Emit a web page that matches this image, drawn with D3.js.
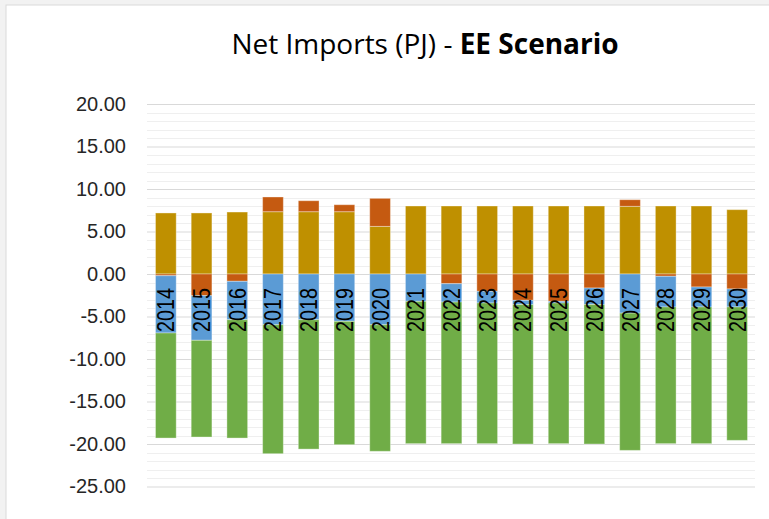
<!DOCTYPE html>
<meta charset="utf-8">
<style>
  body { margin: 0; background: #f2f2f2; }
  text { font-family: "Open Sans", "Liberation Sans", sans-serif; }
</style>
<svg width="769" height="519"></svg>
<script src="https://d3js.org/d3.v7.min.js"></script>
<script>

// data (PJ)
var years = ["2014","2015","2016","2017","2018","2019","2020","2021","2022",
             "2023","2024","2025","2026","2027","2028","2029","2030"];
var gold   = [7.18, 7.18, 7.29, 7.33, 7.33, 7.33, 5.60, 8.00, 8.00, 8.00, 8.00, 8.00, 8.00, 7.96, 8.00, 8.00, 7.57];
var orange = [-0.20, -2.55, -0.86, 1.73, 1.29, 0.82, 3.30, 0.00, -1.14, -2.04, -3.10, -3.22, -1.65, 0.78, -0.27, -1.53, -1.76];
var blue   = [-6.74, -5.25, -4.52, -5.97, -5.38, -5.57, -5.97, -3.22, -2.16, -1.37, -0.50, -0.19, -1.95, -4.60, -3.61, -2.35, -2.12];
var green  = [-12.36, -11.38, -13.92, -15.17, -15.22, -14.51, -14.89, -16.74, -16.66, -16.55, -16.40, -16.55, -16.40, -16.15, -16.08, -16.08, -15.69];
var yTicks = [20, 15, 10, 5, 0, -5, -10, -15, -20, -25];

var keys = ["gold", "orange", "blue", "green"];
var colors = { gold: "#BF9000", orange: "#C55A11", blue: "#5B9BD5", green: "#70AD47" };

var rows = years.map(function(y, i) {
  return { year: y, gold: gold[i], orange: orange[i], blue: blue[i], green: green[i] };
});

var svg = d3.select("svg");

// chart area
svg.append("rect")
    .attr("x", 6).attr("y", 5)
    .attr("width", 900).attr("height", 600)
    .attr("fill", "#fff")
    .attr("stroke", "#d9d9d9");

var x = d3.scaleBand()
    .domain(years)
    .range([148, 755])
    .paddingInner(0.42)
    .paddingOuter(0.21);

var y = d3.scaleLinear()
    .domain([-25, 20])
    .range([486.5, 104]);

// minor gridlines every 1
svg.append("g")
  .selectAll("line")
  .data(d3.range(-25, 21, 1).filter(function(v) { return v % 5 !== 0; }))
  .enter().append("line")
    .attr("x1", 147).attr("x2", 755)
    .attr("y1", function(d) { return Math.round(y(d)) + 0.5; })
    .attr("y2", function(d) { return Math.round(y(d)) + 0.5; })
    .attr("stroke", "#efefef");

// major gridlines + labels (plain hyphen like excel)
svg.append("g")
    .attr("transform", "translate(147,0)")
    .call(d3.axisLeft(y)
      .tickValues(yTicks)
      .tickSize(-608)
      .tickPadding(21)
      .tickFormat(function(d) { return d.toFixed(2); }))
    .call(function(g) { g.select(".domain").remove(); })
    .call(function(g) {
      g.selectAll(".tick line").attr("stroke", "#d9d9d9");
      g.selectAll(".tick text")
        .attr("fill", "#262626")
        .style("font-size", "20px")
        .style("font-family", "'Liberation Sans', sans-serif");
    });

var series = d3.stack()
    .keys(keys)
    .offset(d3.stackOffsetDiverging)(rows);

svg.append("g")
  .selectAll("g")
  .data(series)
  .enter().append("g")
    .attr("fill", function(d) { return colors[d.key]; })
  .selectAll("rect")
  .data(function(d) { return d; })
  .enter().append("rect")
    .attr("x", function(d) { return x(d.data.year); })
    .attr("width", x.bandwidth())
    .attr("y", function(d) { return y(Math.max(d[0], d[1])); })
    .attr("height", function(d) { return Math.abs(y(d[0]) - y(d[1])); })
    .attr("stroke", "#fff")
    .attr("stroke-opacity", 0.35)
    .attr("stroke-width", 1);

// year labels across the zero line
svg.append("g")
  .selectAll("text")
  .data(years)
  .enter().append("text")
    .attr("transform", function(d) {
      return "translate(" + (x(d) + x.bandwidth() / 2 + 8.5) + "," + (y(0) + 14) + ") rotate(-90)";
    })
    .attr("text-anchor", "end")
    .attr("textLength", 44)
    .attr("lengthAdjust", "spacingAndGlyphs")
    .style("font-size", "24px")
    .style("font-family", "'Liberation Sans', sans-serif")
    .attr("fill", "#000")
    .text(function(d) { return d; });

// title
var title = svg.append("text")
    .attr("x", 425)
    .attr("y", 54)
    .attr("text-anchor", "middle")
    .style("font-size", "28px")
    .attr("fill", "#000");
title.append("tspan").text("Net Imports (PJ) - ");
title.append("tspan").attr("font-weight", "bold").text("EE Scenario");

</script>
